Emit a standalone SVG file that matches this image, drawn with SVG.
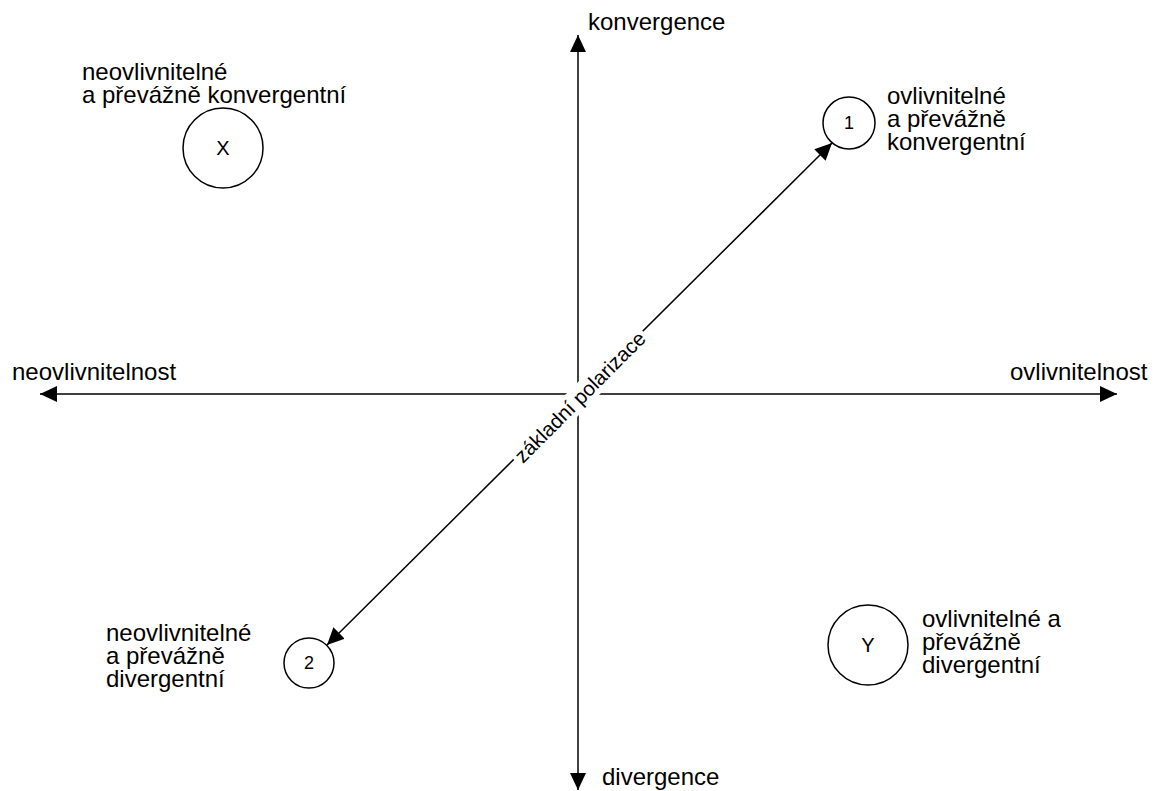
<svg xmlns="http://www.w3.org/2000/svg" width="1157" height="791" viewBox="0 0 1157 791">
  <style>
    text { font-family: "Liberation Sans", Arial, sans-serif; fill: #000; }
    .lbl { font-size: 24px; }
    .num { font-size: 18px; text-anchor: middle; }
    .big { font-size: 20px; text-anchor: middle; }
    .node { fill: #fff; stroke: #000; stroke-width: 1.5; }
    .edge { stroke: #000; stroke-width: 1.5; fill: none; }
  </style>
  <defs>
    <marker id="ah" markerUnits="userSpaceOnUse" markerWidth="18" markerHeight="18" viewBox="0 0 18 18" refX="17" refY="9" orient="auto-start-reverse">
      <path d="M0,1 L17,9 L0,17 Z" fill="#000"/>
    </marker>
  </defs>
  <rect width="1157" height="791" fill="#fff"/>

  <g id="connectors">
    <line id="axis-h" class="edge" x1="40" y1="394" x2="1117" y2="394" marker-start="url(#ah)" marker-end="url(#ah)"/>
    <line id="axis-v" class="edge" x1="578" y1="35" x2="578" y2="790" marker-start="url(#ah)" marker-end="url(#ah)"/>
    <line id="polarizace" class="edge" x1="327" y1="645" x2="832" y2="143" marker-start="url(#ah)" marker-end="url(#ah)"/>
    <g transform="translate(580,397) rotate(-45)">
      <rect x="-91" y="-12" width="182" height="24" fill="#fff"/>
      <text x="0" y="7" style="font-size:20.5px" text-anchor="middle">základní polarizace</text>
    </g>
  </g>

  <g id="axis-labels">
    <text class="lbl" x="588" y="30">konvergence</text>
    <text class="lbl" x="602" y="785">divergence</text>
    <text class="lbl" x="12" y="380">neovlivnitelnost</text>
    <text class="lbl" x="1010" y="380">ovlivnitelnost</text>
  </g>

  <g id="node-X">
    <circle class="node" cx="223" cy="148" r="40"/>
    <text class="big" x="223" y="155">X</text>
    <text class="lbl" x="82" y="80">neovlivnitelné</text>
    <text class="lbl" x="82" y="103">a převážně konvergentní</text>
  </g>

  <g id="node-1">
    <circle class="node" cx="849" cy="123" r="26"/>
    <text class="num" x="849" y="129">1</text>
    <text class="lbl" x="887" y="104">ovlivnitelné</text>
    <text class="lbl" x="887" y="127">a převážně</text>
    <text class="lbl" x="887" y="150">konvergentní</text>
  </g>

  <g id="node-2">
    <circle class="node" cx="309" cy="663" r="25"/>
    <text class="num" x="309" y="669">2</text>
    <text class="lbl" x="106" y="641">neovlivnitelné</text>
    <text class="lbl" x="106" y="664">a převážně</text>
    <text class="lbl" x="106" y="687">divergentní</text>
  </g>

  <g id="node-Y">
    <circle class="node" cx="868" cy="645" r="40"/>
    <text class="big" x="868" y="652">Y</text>
    <text class="lbl" x="922" y="627">ovlivnitelné a</text>
    <text class="lbl" x="922" y="650">převážně</text>
    <text class="lbl" x="922" y="673">divergentní</text>
  </g>
</svg>
